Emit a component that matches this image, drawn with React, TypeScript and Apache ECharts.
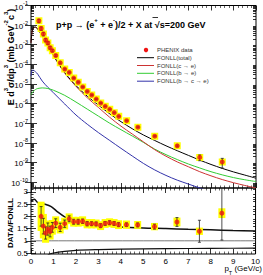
import React, { useEffect, useRef } from "react";
import * as echarts from "echarts";

// ---------- data ----------
const ptData = [0.35, 0.45, 0.55, 0.65, 0.75, 0.85, 0.95, 1.1, 1.3, 1.5, 1.7, 1.9, 2.1, 2.3, 2.5, 2.7, 2.9, 3.1, 3.3, 3.5, 3.7, 3.9, 4.25, 4.75, 5.5, 6.5, 7.5, 8.5];
const yieldData = [1.66e-2, 6.76e-3, 3.55e-3, 1.74e-3, 1.23e-3, 7.08e-4, 5.0e-4, 2.82e-4, 1.2e-4, 5.75e-5, 3.89e-5, 2.0e-5, 1.23e-5, 7.08e-6, 4.17e-6, 2.75e-6, 1.7e-6, 1.07e-6, 7.24e-7, 5.13e-7, 3.47e-7, 2.24e-7, 1.35e-7, 6.3e-8, 2.19e-8, 7.08e-9, 1.82e-9, 1.07e-9];
const ratioData = [null, 2.0, 1.6, 1.32, 1.48, 1.38, 1.55, 1.72, 1.55, 1.7, 1.9, 1.78, 1.78, 1.8, 1.7, 1.7, 1.69, 1.62, 1.71, 1.74, 1.71, 1.66, 1.66, 1.65, 1.58, 1.77, 1.39, 2.13];
const ratioStat = [null, 0.4, 0.32, 0.25, 0.25, 0.22, 0.2, 0.18, 0.17, 0.15, 0.12, 0.1, 0.1, 0.09, 0.09, 0.08, 0.08, 0.08, 0.08, 0.08, 0.08, 0.08, 0.07, 0.08, 0.1, 0.18, 0.45, 1.1];
const ratioSys = [null, 0.6, 0.5, 0.4, 0.35, 0.33, 0.3, 0.28, 0.25, 0.24, 0.22, 0.2, 0.2, 0.2, 0.19, 0.19, 0.18, 0.18, 0.18, 0.18, 0.18, 0.18, 0.17, 0.16, 0.15, 0.18, 0.15, 0.2];

const curvePt = [0, 0.05, 0.1, 0.2, 0.3, 0.5, 0.75, 1, 1.5, 2, 2.5, 3, 3.5, 4, 4.5, 5, 5.5, 6, 6.5, 7, 7.5, 8, 8.5, 9, 9.5, 10];
const fonllTotal = [1.26e-3, 5.01e-3, 7.41e-3, 7.94e-3, 6.31e-3, 2.82e-3, 8.91e-4, 2.82e-4, 3.8e-5, 8.32e-6, 2.4e-6, 8.32e-7, 3.02e-7, 1.2e-7, 5.25e-8, 2.51e-8, 1.32e-8, 7.08e-9, 3.98e-9, 2.29e-9, 1.32e-9, 7.94e-10, 5.01e-10, 3.31e-10, 2.29e-10, 1.58e-10];
const fonllCE = [1.26e-3, 5.01e-3, 7.24e-3, 7.76e-3, 6.17e-3, 2.75e-3, 8.71e-4, 2.69e-4, 3.55e-5, 7.59e-6, 2.0e-6, 6.31e-7, 2.0e-7, 7.08e-8, 2.82e-8, 1.12e-8, 4.47e-9, 2.09e-9, 1.07e-9, 6.03e-10, 3.39e-10, 2.09e-10, 1.35e-10, 9.33e-11, 6.76e-11, 5.01e-11];
const fonllBE = [2.82e-6, 3.55e-6, 4.17e-6, 5.25e-6, 5.89e-6, 6.31e-6, 5.89e-6, 4.79e-6, 2.63e-6, 1.2e-6, 5.25e-7, 2.29e-7, 1.0e-7, 4.68e-8, 2.24e-8, 1.05e-8, 4.79e-9, 2.51e-9, 1.41e-9, 8.32e-10, 5.25e-10, 3.39e-10, 2.34e-10, 1.7e-10, 1.32e-10, 1.07e-10];
const fonllBCE = [2.51e-5, 5.01e-5, 5.01e-5, 4.17e-5, 3.16e-5, 1.41e-5, 6.76e-6, 3.55e-6, 9.55e-7, 2.63e-7, 8.91e-8, 3.31e-8, 1.32e-8, 5.25e-9, 2.14e-9, 8.91e-10, 4.17e-10, 2.19e-10, 1.26e-10, 7.94e-11, 5.01e-11, 3.31e-11, 2.19e-11, 1.45e-11, 1.0e-11, 7.08e-12];

const upperPt = [0, 0.15, 0.3, 0.6, 0.9, 1.2, 1.5, 1.8, 2.1, 2.5, 3, 4, 5, 6, 7, 8, 9, 10];
const upperRatio = [2.62, 2.7, 2.56, 2.5, 2.4, 2.17, 1.98, 1.86, 1.79, 1.71, 1.64, 1.56, 1.52, 1.5, 1.47, 1.45, 1.42, 1.4];
const lowerPt = [0.75, 1, 1.5, 2, 3, 4, 6, 8, 10];
const lowerRatio = [0.43, 0.5, 0.57, 0.61, 0.64, 0.66, 0.68, 0.69, 0.7];
const unityPt = [0, 10];
const unityRatio = [1, 1];

const xTicks = [0, 1, 2, 3, 4, 5, 6, 7, 8, 9, 10];
const topDecades = [-10, -9, -8, -7, -6, -5, -4, -3, -2, -1];
const ratioLabels = [0.5, 1, 1.5, 2, 2.5, 3];

const legendNames = ["PHENIX data", "FONLL(total)", "FONLL(c \u2192 e)", "FONLL(b \u2192 e)", "FONLL(b \u2192 c \u2192 e)"];

// ---------- styling ----------
const FONT = "'Liberation Sans', Arial, Helvetica, sans-serif";
const C_TOTAL = "#000000";
const C_CE = "#cc3333";
const C_BE = "#33cc33";
const C_BCE = "#3333aa";
const C_DOT = "#f01414";
const C_SYS = "#ffff00";

const TOP_MIN = -10.3, TOP_MAX = -1;
const R_MIN = 0.46, R_MAX = 3.16;

const L = (v: number) => Math.log10(v);

function buildMinorLog(): number[] {
  const out: number[] = [];
  for (let n = -11; n <= -1; n++) {
    for (let k = 2; k <= 9; k++) {
      const v = n + Math.log10(k);
      if (v > TOP_MIN && v < TOP_MAX) out.push(v);
    }
  }
  return out;
}
function buildMinorRatio(): number[] {
  const out: number[] = [];
  for (let i = 5; i <= 31; i++) {
    if (i % 5 !== 0) out.push(i / 10);
  }
  return out;
}

const option = () => {
  const minorLog = buildMinorLog();
  const minorRatio = buildMinorRatio();

  const curve = (xs: number[], ys: number[]) => xs.map((x, i) => [x, L(ys[i])]);
  const lin = (xs: number[], ys: number[]) => xs.map((x, i) => [x, ys[i]]);

  const topPts = ptData.map((x, i) => [x, L(yieldData[i])]);
  const topSys = ptData.map((x, i) => {
    const v = yieldData[i];
    const r = ratioData[i];
    const rel = r != null ? (ratioSys[i] as number) / r : 0.3;
    return [x, L(v), L(v * (1 - rel)), L(v * (1 + rel))];
  });
  const topStat = ptData.map((x, i) => {
    const v = yieldData[i];
    const r = ratioData[i];
    const rel = r != null ? (ratioStat[i] as number) / r : 0.2;
    return [x, L(v), L(v * (1 - rel)), L(v * (1 + rel))];
  });
  const rIdx = ptData.map((_, i) => i).filter((i) => ratioData[i] != null);
  const rPts = rIdx.map((i) => [ptData[i], ratioData[i] as number]);
  const rSys = rIdx.map((i) => {
    const r = ratioData[i] as number, s = ratioSys[i] as number;
    return [ptData[i], r, r - s, r + s];
  });
  const rStat = rIdx.map((i) => {
    const r = ratioData[i] as number, s = ratioStat[i] as number;
    return [ptData[i], r, r - s, r + s];
  });

  const boxRender = (minH: number) => (params: any, api: any) => {
    const x = api.value(0);
    const c = api.coord([x, api.value(1)]);
    const lo = api.coord([x, api.value(2)]);
    const hi = api.coord([x, api.value(3)]);
    const top = Math.min(hi[1], c[1] - minH);
    const bot = Math.max(lo[1], c[1] + minH);
    return {
      type: "rect",
      shape: { x: c[0] - 3.5, y: top, width: 7, height: bot - top },
      style: { fill: C_SYS },
    };
  };
  const barRender = (params: any, api: any) => {
    const x = api.value(0);
    const lo = api.coord([x, api.value(2)]);
    const hi = api.coord([x, api.value(3)]);
    const st = { stroke: "#222", lineWidth: 0.8 };
    return {
      type: "group",
      children: [
        { type: "line", shape: { x1: lo[0], y1: lo[1], x2: hi[0], y2: hi[1] }, style: st },
        { type: "line", shape: { x1: lo[0] - 1.5, y1: lo[1], x2: lo[0] + 1.5, y2: lo[1] }, style: st },
        { type: "line", shape: { x1: hi[0] - 1.5, y1: hi[1], x2: hi[0] + 1.5, y2: hi[1] }, style: st },
      ],
    };
  };

  const xBase = (grid: number, pos: "top" | "bottom", labels: boolean) => ({
    type: "value",
    gridIndex: grid,
    position: pos,
    min: 0,
    max: 10,
    interval: 1,
    axisLine: { show: false },
    axisTick: { show: true, inside: true, length: 5, lineStyle: { color: "#000", width: 0.8 } },
    minorTick: { show: true, splitNumber: 5, length: 2.5, lineStyle: { color: "#000", width: 0.6 } },
    splitLine: { show: false },
    minorSplitLine: { show: false },
    axisLabel: labels
      ? { show: true, customValues: xTicks, margin: 3, fontSize: 8, color: "#000", fontFamily: FONT, formatter: (v: number) => String(v) }
      : { show: false },
  });

  const yTop = (pos: "left" | "right", major: boolean, labels: boolean) => ({
    type: "value",
    gridIndex: 0,
    position: pos,
    min: TOP_MIN,
    max: TOP_MAX,
    axisLine: { show: false },
    splitLine: { show: false },
    axisTick: {
      show: true,
      inside: true,
      length: major ? 6 : 3,
      customValues: major ? topDecades : minorLog,
      lineStyle: { color: "#000", width: 0.8 },
    },
    axisLabel: labels
      ? {
          show: true,
          customValues: topDecades,
          margin: 3,
          formatter: (v: number) => `{b|10}{s|${Math.round(v)}}`,
          rich: {
            b: { fontSize: 8, fontFamily: FONT, color: "#000", lineHeight: 11, verticalAlign: "bottom" },
            s: { fontSize: 5.5, fontFamily: FONT, color: "#000", lineHeight: 6, verticalAlign: "top" },
          },
        }
      : { show: false },
  });

  const yRatio = (pos: "left" | "right", major: boolean, labels: boolean) => ({
    type: "value",
    gridIndex: 1,
    position: pos,
    min: R_MIN,
    max: R_MAX,
    axisLine: { show: false },
    splitLine: { show: false },
    axisTick: {
      show: true,
      inside: true,
      length: major ? 5 : 2.5,
      customValues: major ? ratioLabels : minorRatio,
      lineStyle: { color: "#000", width: 0.8 },
    },
    axisLabel: labels
      ? { show: true, customValues: ratioLabels, margin: 3, fontSize: 8, color: "#000", fontFamily: FONT, formatter: (v: number) => String(v) }
      : { show: false },
  });

  const lineSeries = (name: string, data: number[][], color: string, xi: number, yi: number, width = 1, z = 3) => ({
    name,
    type: "line",
    xAxisIndex: xi,
    yAxisIndex: yi,
    data,
    showSymbol: false,
    symbol: "none",
    smooth: 0.3,
    clip: true,
    z,
    lineStyle: { color, width },
    itemStyle: { color },
  });

  const legendY = [50, 57.7, 65.5, 73.3, 81.2];
  const legendColors = [C_DOT, C_TOTAL, C_CE, C_BE, C_BCE];
  const legendEls: any[] = [];
  legendNames.forEach((name, i) => {
    if (i === 0) {
      legendEls.push({ type: "circle", shape: { cx: 146, cy: legendY[i], r: 2.2 }, style: { fill: C_DOT } });
    } else {
      legendEls.push({ type: "line", shape: { x1: 137, y1: legendY[i], x2: 154, y2: legendY[i] }, style: { stroke: legendColors[i], lineWidth: 1 } });
    }
    legendEls.push({
      type: "text",
      x: 157,
      y: legendY[i],
      style: { text: name, fill: "#333", font: `6px ${FONT}`, textAlign: "left", textVerticalAlign: "middle" },
    });
  });

  return {
    animation: false,
    textStyle: { fontFamily: FONT },
    grid: [
      { left: 31, top: 4, width: 225, height: 184, show: true, borderColor: "#000", borderWidth: 1, backgroundColor: "transparent" },
      { left: 31, top: 188, width: 225, height: 66, show: true, borderColor: "#000", borderWidth: 1, backgroundColor: "transparent" },
    ],
    xAxis: [xBase(0, "bottom", false), xBase(0, "top", false), xBase(1, "bottom", true), xBase(1, "top", false)],
    yAxis: [
      yTop("left", true, true),
      yTop("right", true, false),
      yTop("left", false, false),
      yTop("right", false, false),
      yRatio("left", true, true),
      yRatio("right", true, false),
      yRatio("left", false, false),
      yRatio("right", false, false),
    ],
    series: [
      lineSeries("FONLL(b \u2192 c \u2192 e)", curve(curvePt, fonllBCE), C_BCE, 0, 0),
      lineSeries("FONLL(b \u2192 e)", curve(curvePt, fonllBE), C_BE, 0, 0),
      lineSeries("FONLL(c \u2192 e)", curve(curvePt, fonllCE), C_CE, 0, 0),
      lineSeries("FONLL(total)", curve(curvePt, fonllTotal), C_TOTAL, 0, 0),
      {
        name: "sys",
        type: "custom",
        xAxisIndex: 0,
        yAxisIndex: 0,
        data: topSys,
        encode: { x: 0, y: 1 },
        renderItem: boxRender(3.5),
        clip: true,
        z: 4,
      },
      {
        name: "stat",
        type: "custom",
        xAxisIndex: 0,
        yAxisIndex: 0,
        data: topStat,
        encode: { x: 0, y: 1 },
        renderItem: barRender,
        clip: true,
        z: 5,
      },
      {
        name: "PHENIX data",
        type: "scatter",
        xAxisIndex: 0,
        yAxisIndex: 0,
        data: topPts,
        symbol: "circle",
        symbolSize: 5,
        itemStyle: { color: C_DOT },
        z: 6,
      },
      // ratio panel
      lineSeries("unity", lin(unityPt, unityRatio), "#555", 2, 4, 0.8, 2),
      lineSeries("upper", lin(upperPt, upperRatio), "#111", 2, 4, 1.5, 3),
      lineSeries("lower", lin(lowerPt, lowerRatio), "#111", 2, 4, 1.2, 3),
      {
        name: "rsys",
        type: "custom",
        xAxisIndex: 2,
        yAxisIndex: 4,
        data: rSys,
        encode: { x: 0, y: 1 },
        renderItem: boxRender(3),
        clip: true,
        z: 4,
      },
      {
        name: "rstat",
        type: "custom",
        xAxisIndex: 2,
        yAxisIndex: 4,
        data: rStat,
        encode: { x: 0, y: 1 },
        renderItem: barRender,
        clip: true,
        z: 5,
      },
      {
        name: "ratio",
        type: "scatter",
        xAxisIndex: 2,
        yAxisIndex: 4,
        data: rPts,
        symbol: "circle",
        symbolSize: 5,
        itemStyle: { color: C_DOT },
        z: 6,
      },
    ],
    graphic: [
      {
        type: "text",
        x: 56,
        y: 23,
        style: {
          text: "{n|p+p \u2192 (e}{u|+}{n| + e}{u|-}{n|)/2 + X at \u221As=200 GeV}",
          textAlign: "left",
          textVerticalAlign: "middle",
          rich: {
            n: { fontSize: 9, fontWeight: "bold", fontFamily: FONT, fill: "#000", lineHeight: 12, verticalAlign: "bottom" },
            u: { fontSize: 6, fontWeight: "bold", fontFamily: FONT, fill: "#000", lineHeight: 7, verticalAlign: "top" },
          },
        },
      },
      { type: "line", shape: { x1: 152.5, y1: 17.5, x2: 158, y2: 17.5 }, style: { stroke: "#000", lineWidth: 0.8 } },
      {
        type: "text",
        x: 9,
        y: 57,
        rotation: Math.PI / 2,
        style: {
          text: "{n|E d}{u|3}{n|\u03C3/dp}{u|3}{n| (mb GeV}{u|-2}{n|c}{u|3}{n|)}",
          textAlign: "center",
          textVerticalAlign: "middle",
          rich: {
            n: { fontSize: 9, fontWeight: "bold", fontFamily: FONT, fill: "#000", lineHeight: 12, verticalAlign: "bottom" },
            u: { fontSize: 6, fontWeight: "bold", fontFamily: FONT, fill: "#000", lineHeight: 7, verticalAlign: "top" },
          },
        },
      },
      {
        type: "text",
        x: 10,
        y: 223,
        rotation: Math.PI / 2,
        style: {
          text: "DATA/FONLL",
          font: `bold 8px ${FONT}`,
          fill: "#000",
          textAlign: "center",
          textVerticalAlign: "middle",
        },
      },
      {
        type: "text",
        x: 262,
        y: 270,
        style: {
          text: "{n|p}{d|T}{n| (GeV/c)}",
          textAlign: "right",
          textVerticalAlign: "middle",
          rich: {
            n: { fontSize: 8, fontFamily: FONT, fill: "#000", lineHeight: 11, verticalAlign: "top" },
            d: { fontSize: 5.5, fontFamily: FONT, fill: "#000", lineHeight: 6, verticalAlign: "bottom" },
          },
        },
      },
      ...legendEls,
    ],
  };
};

export default function App() {
  const ref = useRef<HTMLDivElement>(null);
  useEffect(() => {
    if (!ref.current) return;
    const chart = echarts.init(ref.current, null, { renderer: "svg" });
    chart.setOption(option() as any);
    return () => chart.dispose();
  }, []);
  return <div ref={ref} style={{ position: "fixed", left: 0, top: 0, width: 263, height: 275, background: "#fff" }} />;
}
